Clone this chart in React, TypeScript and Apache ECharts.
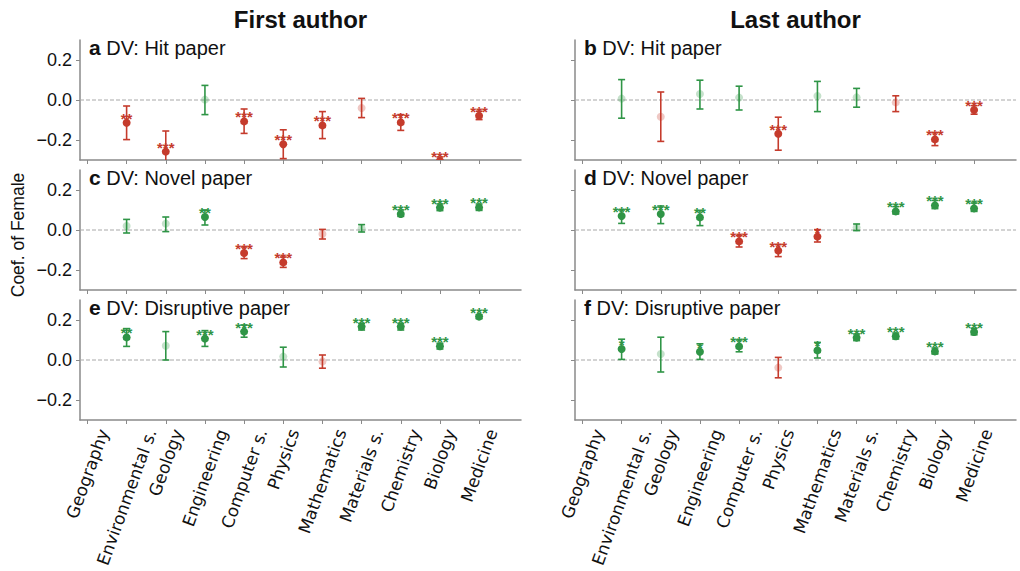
import React, { useEffect, useRef } from "react";
import * as echarts from "echarts";

const categories = [
  "Geography", "Environmental s.", "Geology", "Engineering", "Computer s.",
  "Physics", "Mathematics", "Materials s.", "Chemistry", "Biology", "Medicine",
];
const yTickValues = [-0.2, 0, 0.2];
const xTickValues = [0, 1, 2, 3, 4, 5, 6, 7, 8, 9, 10];

// a: First author, Hit paper
const hitFirstCoef = [null, -0.114, -0.258, 0.002, -0.107, -0.221, -0.127, -0.04, -0.112, -0.305, -0.079];
const hitFirstLow = [null, -0.198, -0.36, -0.073, -0.167, -0.293, -0.193, -0.088, -0.152, -0.325, -0.098];
const hitFirstHigh = [null, -0.03, -0.155, 0.073, -0.045, -0.149, -0.058, 0.008, -0.073, -0.285, -0.056];
const hitFirstStars = ["", "**", "***", "", "***", "***", "***", "", "***", "***", "***"];

// b: Last author, Hit paper
const hitLastCoef = [null, 0.007, -0.084, 0.03, 0.012, -0.169, 0.02, 0.013, -0.012, -0.197, -0.05];
const hitLastLow = [null, -0.091, -0.207, -0.045, -0.05, -0.251, -0.058, -0.036, -0.058, -0.228, -0.071];
const hitLastHigh = [null, 0.102, 0.04, 0.099, 0.069, -0.086, 0.093, 0.058, 0.021, -0.164, -0.028];
const hitLastStars = ["", "", "", "", "", "***", "", "", "", "***", "***"];

// c: First author, Novel paper
const novelFirstCoef = [null, 0.02, 0.032, 0.065, -0.115, -0.162, -0.02, 0.008, 0.08, 0.112, 0.113];
const novelFirstLow = [null, -0.015, -0.008, 0.025, -0.143, -0.187, -0.045, -0.01, 0.068, 0.097, 0.098];
const novelFirstHigh = [null, 0.053, 0.065, 0.1, -0.085, -0.135, 0.003, 0.027, 0.1, 0.13, 0.13];
const novelFirstStars = ["", "", "", "**", "***", "***", "", "", "***", "***", "***"];

// d: Last author, Novel paper
const novelLastCoef = [null, 0.07, 0.08, 0.063, -0.057, -0.103, -0.033, 0.013, 0.093, 0.123, 0.108];
const novelLastLow = [null, 0.033, 0.032, 0.022, -0.085, -0.133, -0.06, -0.003, 0.08, 0.107, 0.093];
const novelLastHigh = [null, 0.1, 0.12, 0.097, -0.028, -0.073, 0.002, 0.03, 0.117, 0.148, 0.135];
const novelLastStars = ["", "***", "***", "**", "***", "***", "*", "", "***", "***", "***"];

// e: First author, Disruptive paper
const disruptFirstCoef = [null, 0.113, 0.071, 0.107, 0.142, 0.017, -0.007, 0.167, 0.167, 0.069, 0.217];
const disruptFirstLow = [null, 0.068, 0.0, 0.068, 0.114, -0.035, -0.041, 0.15, 0.15, 0.055, 0.207];
const disruptFirstHigh = [null, 0.157, 0.142, 0.147, 0.175, 0.064, 0.025, 0.183, 0.183, 0.084, 0.227];
const disruptFirstStars = ["", "**", "", "***", "***", "", "", "***", "***", "***", "***"];

// f: Last author, Disruptive paper
const disruptLastCoef = [null, 0.055, 0.03, 0.041, 0.068, -0.038, 0.048, 0.112, 0.119, 0.043, 0.14];
const disruptLastLow = [null, 0.003, -0.06, 0.003, 0.041, -0.089, 0.01, 0.097, 0.105, 0.03, 0.126];
const disruptLastHigh = [null, 0.104, 0.114, 0.081, 0.1, 0.013, 0.088, 0.13, 0.135, 0.06, 0.159];
const disruptLastStars = ["", "*", "", "*", "***", "", "*", "***", "***", "***", "***"];

const RED = "#c53b2c";
const GREEN = "#2f9546";
const AXIS = "#8a8a8a";
const SANS = '"Liberation Sans", Arial, sans-serif';
const XMIN = -0.19;
const XMAX = 11.07;
const YMIN = -0.3;
const YMAX = 0.3;

const panels = [
  { letter: "a", dv: "Hit paper", coef: hitFirstCoef, low: hitFirstLow, high: hitFirstHigh, stars: hitFirstStars },
  { letter: "b", dv: "Hit paper", coef: hitLastCoef, low: hitLastLow, high: hitLastHigh, stars: hitLastStars },
  { letter: "c", dv: "Novel paper", coef: novelFirstCoef, low: novelFirstLow, high: novelFirstHigh, stars: novelFirstStars },
  { letter: "d", dv: "Novel paper", coef: novelLastCoef, low: novelLastLow, high: novelLastHigh, stars: novelLastStars },
  { letter: "e", dv: "Disruptive paper", coef: disruptFirstCoef, low: disruptFirstLow, high: disruptFirstHigh, stars: disruptFirstStars },
  { letter: "f", dv: "Disruptive paper", coef: disruptLastCoef, low: disruptLastLow, high: disruptLastHigh, stars: disruptLastStars },
];

const colLeft = [80, 575];
const rowTop = [40, 170, 300];
const gridW = 441;
const gridH = 120;

function fmtY(v: number) {
  if (Math.abs(v) < 1e-9) return "0.0";
  return (v < 0 ? "\u2212" : "") + Math.abs(v).toFixed(1);
}

export default function App() {
  const ref = useRef<HTMLDivElement>(null);
  useEffect(() => {
    const chart = echarts.init(ref.current!, null, { renderer: "svg", width: 1020, height: 571 });
    const grids: any[] = [];
    const xAxes: any[] = [];
    const yAxes: any[] = [];
    const series: any[] = [];
    const titles: any[] = [];

    panels.forEach((p, k) => {
      const col = k % 2;
      const row = Math.floor(k / 2);
      grids.push({ left: colLeft[col], top: rowTop[row], width: gridW, height: gridH, containLabel: false });
      xAxes.push({
        type: "value", gridIndex: k, min: XMIN, max: XMAX,
        axisLine: { show: true, onZero: false, lineStyle: { color: AXIS, width: 1.5 } },
        axisTick: { show: true, customValues: xTickValues, length: 4, lineStyle: { color: AXIS, width: 1 } },
        axisLabel: { show: false },
        splitLine: { show: false },
      });
      yAxes.push({
        type: "value", gridIndex: k, min: YMIN, max: YMAX,
        axisLine: { show: true, onZero: false, lineStyle: { color: AXIS, width: 1.5 } },
        axisTick: { show: true, customValues: yTickValues, length: 4, lineStyle: { color: AXIS, width: 1 } },
        axisLabel: {
          show: col === 0, customValues: yTickValues, formatter: (v: number) => fmtY(v),
          fontFamily: SANS, fontSize: 18, color: "#111", margin: 8,
        },
        splitLine: { show: false },
      });
      titles.push({
        text: `{b|${p.letter}} DV: ${p.dv}`,
        left: colLeft[col] + 9, top: rowTop[row] - 3, padding: 0,
        textStyle: {
          fontFamily: SANS, fontSize: 20, fontWeight: "normal", color: "#111",
          rich: { b: { fontFamily: SANS, fontSize: 21, fontWeight: "bold", color: "#111" } },
        },
      });
      series.push({
        type: "line", xAxisIndex: k, yAxisIndex: k, silent: true, symbol: "none",
        data: [[XMIN, 0], [XMAX, 0]],
        lineStyle: { color: "#a8a8a8", width: 1, type: [4, 2] }, z: 1,
      });
      const rows: number[][] = [];
      p.coef.forEach((c, i) => {
        if (c === null) return;
        rows.push([i, c as number, p.low[i] as number, p.high[i] as number]);
      });
      const stars = p.stars;
      series.push({
        type: "custom", xAxisIndex: k, yAxisIndex: k, clip: true, z: 3,
        data: rows,
        renderItem: (params: any, api: any) => {
          const i = api.value(0);
          const c = api.value(1);
          const lo = api.value(2);
          const hi = api.value(3);
          const s = stars[i] || "";
          const color = c < 0 ? RED : GREEN;
          const pc = api.coord([i, c]);
          const pl = api.coord([i, lo]);
          const ph = api.coord([i, hi]);
          const cw = 3.5;
          const ls = { stroke: color, lineWidth: 1.6 };
          const children: any[] = [
            { type: "line", shape: { x1: pc[0], y1: pl[1], x2: pc[0], y2: ph[1] }, style: ls },
            { type: "line", shape: { x1: pc[0] - cw, y1: pl[1], x2: pc[0] + cw, y2: pl[1] }, style: ls },
            { type: "line", shape: { x1: pc[0] - cw, y1: ph[1], x2: pc[0] + cw, y2: ph[1] }, style: ls },
            { type: "circle", shape: { cx: pc[0], cy: pc[1], r: 4 }, style: { fill: color, opacity: s ? 1 : 0.28 } },
          ];
          if (s) {
            children.push({
              type: "text", x: pc[0], y: pc[1] - 4.5,
              style: { text: s, fill: color, font: `bold 15px ${SANS}`, align: "center", verticalAlign: "middle" },
            });
          }
          return { type: "group", children };
        },
      });
    });

    chart.setOption({
      animation: false,
      backgroundColor: "#ffffff",
      title: titles,
      grid: grids,
      xAxis: xAxes,
      yAxis: yAxes,
      series,
    });

    // Rotated category labels (matplotlib-style centered), under the bottom row
    const labelFont = '17px "DejaVu Sans"';
    const ctx = document.createElement("canvas").getContext("2d")!;
    ctx.font = labelFont;
    const ang = (70 * Math.PI) / 180;
    const gfx: any[] = [];
    [4, 5].forEach((gi) => {
      const axisY = chart.convertToPixel({ yAxisIndex: gi }, YMIN) as number;
      categories.forEach((name, i) => {
        const x = chart.convertToPixel({ xAxisIndex: gi }, i) as number;
        const L = ctx.measureText(name).width;
        const h = 16;
        const cy = axisY + 7 + (L * Math.sin(ang) + h * Math.cos(ang)) / 2;
        gfx.push({
          type: "text", x, y: cy, rotation: ang, silent: true,
          style: { text: name, font: labelFont, fill: "#111", align: "center", verticalAlign: "middle" },
        });
      });
    });
    gfx.push({
      type: "text", x: colLeft[0] + gridW / 2, y: 19,
      style: { text: "First author", font: `bold 24px ${SANS}`, fill: "#111", align: "center", verticalAlign: "middle" },
    });
    gfx.push({
      type: "text", x: colLeft[1] + gridW / 2, y: 19,
      style: { text: "Last author", font: `bold 24px ${SANS}`, fill: "#111", align: "center", verticalAlign: "middle" },
    });
    gfx.push({
      type: "text", x: 18, y: 235, rotation: Math.PI / 2,
      style: { text: "Coef. of Female", font: `17.5px ${SANS}`, fill: "#111", align: "center", verticalAlign: "middle" },
    });
    chart.setOption({ graphic: gfx });

    return () => chart.dispose();
  }, []);
  return <div ref={ref} style={{ position: "fixed", left: 0, top: 0, width: 1020, height: 571 }} />;
}
